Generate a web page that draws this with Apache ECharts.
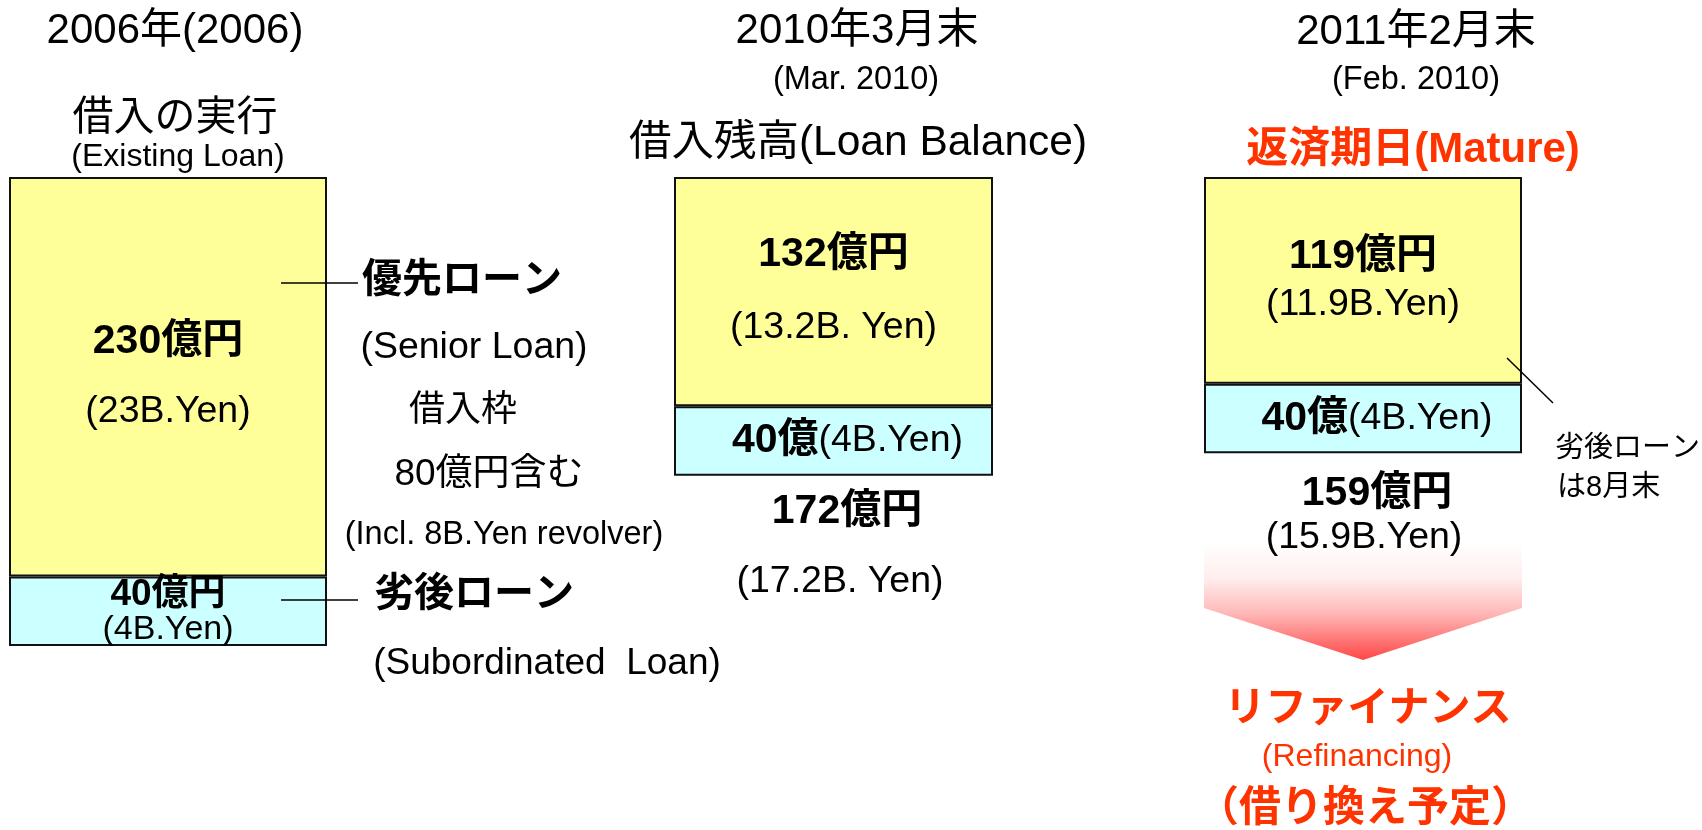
<!DOCTYPE html>
<html><head><meta charset="utf-8">
<script src="https://cdn.jsdelivr.net/npm/echarts@6/dist/echarts.min.js"></script>
<style>html,body{margin:0;padding:0;background:#fff}#c{width:1702px;height:830px}</style>
</head><body><div id="c"></div>
<script>
// ---- data (億円) ----
const periods = ['2006年(2006)', '2010年3月末', '2011年2月末'];
const seniorLoan = [230, 132, 119];
const subordinatedLoan = [40, 40, 40];
const totals = seniorLoan.map((v, i) => v + subordinatedLoan[i]);

// ---- layout / style ----
const FONT = '"Liberation Sans", Arial, "Noto Sans CJK JP", sans-serif';
const RED = '#ff3300';
const gridLeft = [9, 674, 1204];
const gridWidth = [318, 319, 318];
const gridTop = 177, gridHeight = 469;
const seniorGap = [70, 73, 48];
const yenSep = ['', ' ', ''];
const BOLD_SIZE = 41, PAREN_SIZE = 37.5;
const maxTotal = Math.max(...totals);

const grids = [], xAxes = [], yAxes = [], series = [];
periods.forEach((p, i) => {
  grids.push({ left: gridLeft[i], top: gridTop, width: gridWidth[i], height: gridHeight });
  xAxes.push({ type: 'category', gridIndex: i, data: [p], show: false });
  yAxes.push({ type: 'value', gridIndex: i, inverse: true, min: 0, max: maxTotal, show: false });
  const g = seniorGap[i];
  series.push({
    type: 'bar', stack: 'loan' + i, xAxisIndex: i, yAxisIndex: i,
    barWidth: '100%', data: [seniorLoan[i]],
    itemStyle: { color: '#ffff99', borderColor: '#111', borderWidth: 2 },
    label: {
      show: true, position: 'inside',
      formatter: `{b|${seniorLoan[i]}億円}\n{n|(${seniorLoan[i] / 10}B.${yenSep[i]}Yen)}`,
      rich: {
        b: { fontSize: BOLD_SIZE, fontWeight: 'bold', fontFamily: FONT, color: '#000', lineHeight: g },
        n: { fontSize: PAREN_SIZE, fontFamily: FONT, color: '#000', lineHeight: g }
      }
    }
  });
  const sub = subordinatedLoan[i];
  const first = i === 0;
  series.push({
    type: 'bar', stack: 'loan' + i, xAxisIndex: i, yAxisIndex: i,
    barWidth: '100%', data: [sub],
    itemStyle: { color: '#ccffff', borderColor: '#111', borderWidth: 2 },
    label: {
      show: true, position: 'inside',
      offset: first ? [0, 1] : [14, 0],
      formatter: first
        ? `{b|${sub}億円}\n{n|(${sub / 10}B.Yen)}`
        : `{b|${sub}億}{n|(${sub / 10}B.Yen)}`,
      rich: {
        b: { fontSize: first ? 37 : BOLD_SIZE, fontWeight: 'bold', fontFamily: FONT, color: '#000', lineHeight: first ? 34 : 48 },
        n: { fontSize: first ? 34 : PAREN_SIZE, fontFamily: FONT, color: '#000', lineHeight: first ? 34 : 48 }
      }
    }
  });
});

function txt(x, y, text, size, opt) {
  opt = opt || {};
  return {
    type: 'text', x: x, y: y, z: 10,
    style: {
      text: text, fontSize: size, fontFamily: FONT,
      fontWeight: opt.bold ? 'bold' : 'normal',
      fill: opt.color || '#000',
      textAlign: opt.align || 'center', align: opt.align || 'center',
      textVerticalAlign: 'middle', verticalAlign: 'middle'
    }
  };
}
function line(x1, y1, x2, y2) {
  return { type: 'line', z: 10, shape: { x1, y1, x2, y2 }, style: { stroke: '#000', lineWidth: 1.5 } };
}

const graphics = [
  // column titles
  txt(175, 31, periods[0], 42),
  txt(175, 119, '借入の実行', 41),
  txt(178, 157, '(Existing Loan)', 32),
  txt(857, 31, periods[1], 42),
  txt(856, 80, '(Mar. 2010)', 32.5),
  txt(858, 143, '借入残高(Loan Balance)', 42.5),
  txt(1416, 32, periods[2], 42),
  txt(1416, 80, '(Feb. 2010)', 32.5),
  txt(1413, 150, '返済期日(Mature)', 42, { bold: true, color: RED }),
  // column 1 annotations
  line(281, 283, 358, 283),
  txt(462, 281, '優先ローン', 40, { bold: true }),
  txt(474, 348, '(Senior Loan)', 37.5),
  txt(463, 411, '借入枠', 36),
  txt(489, 475, '80億円含む', 37),
  txt(504, 535, '(Incl. 8B.Yen revolver)', 32.5),
  line(281, 600, 358, 600),
  txt(474, 595, '劣後ローン', 40, { bold: true }),
  txt(547, 664, '(Subordinated  Loan)', 37),
  // column 2 total
  txt(847, 512, totals[1] + '億円', BOLD_SIZE, { bold: true }),
  txt(840, 582, '(' + totals[1] / 10 + 'B. Yen)', PAREN_SIZE),
  // column 3
  line(1507, 358, 1553, 403),
  txt(1555, 449, '劣後ローン', 29, { align: 'left' }),
  txt(1557, 488, 'は8月末', 29, { align: 'left' }),
  {
    type: 'polygon', z: 1,
    shape: { points: [[1204, 543], [1522, 543], [1522, 608], [1363, 660], [1204, 608]] },
    style: {
      fill: new echarts.graphic.LinearGradient(0, 0, 0, 1, [
        { offset: 0, color: '#ffffff' },
        { offset: 0.3, color: '#ffeeee' },
        { offset: 0.6, color: '#ffb8b8' },
        { offset: 1, color: '#ff4646' }
      ])
    }
  },
  txt(1377, 494, totals[2] + '億円', BOLD_SIZE, { bold: true }),
  txt(1364, 538, '(' + totals[2] / 10 + 'B.Yen)', PAREN_SIZE),
  txt(1368, 710, 'リファイナンス', 41, { bold: true, color: RED }),
  txt(1357, 757, '(Refinancing)', 32, { color: RED }),
  txt(1365, 809, '（借り換え予定）', 42, { bold: true, color: RED })
];

const chart = echarts.init(document.getElementById('c'));
chart.setOption({
  animation: false,
  backgroundColor: '#fff',
  grid: grids, xAxis: xAxes, yAxis: yAxes, series: series,
  graphic: { elements: graphics }
});
</script></body></html>
